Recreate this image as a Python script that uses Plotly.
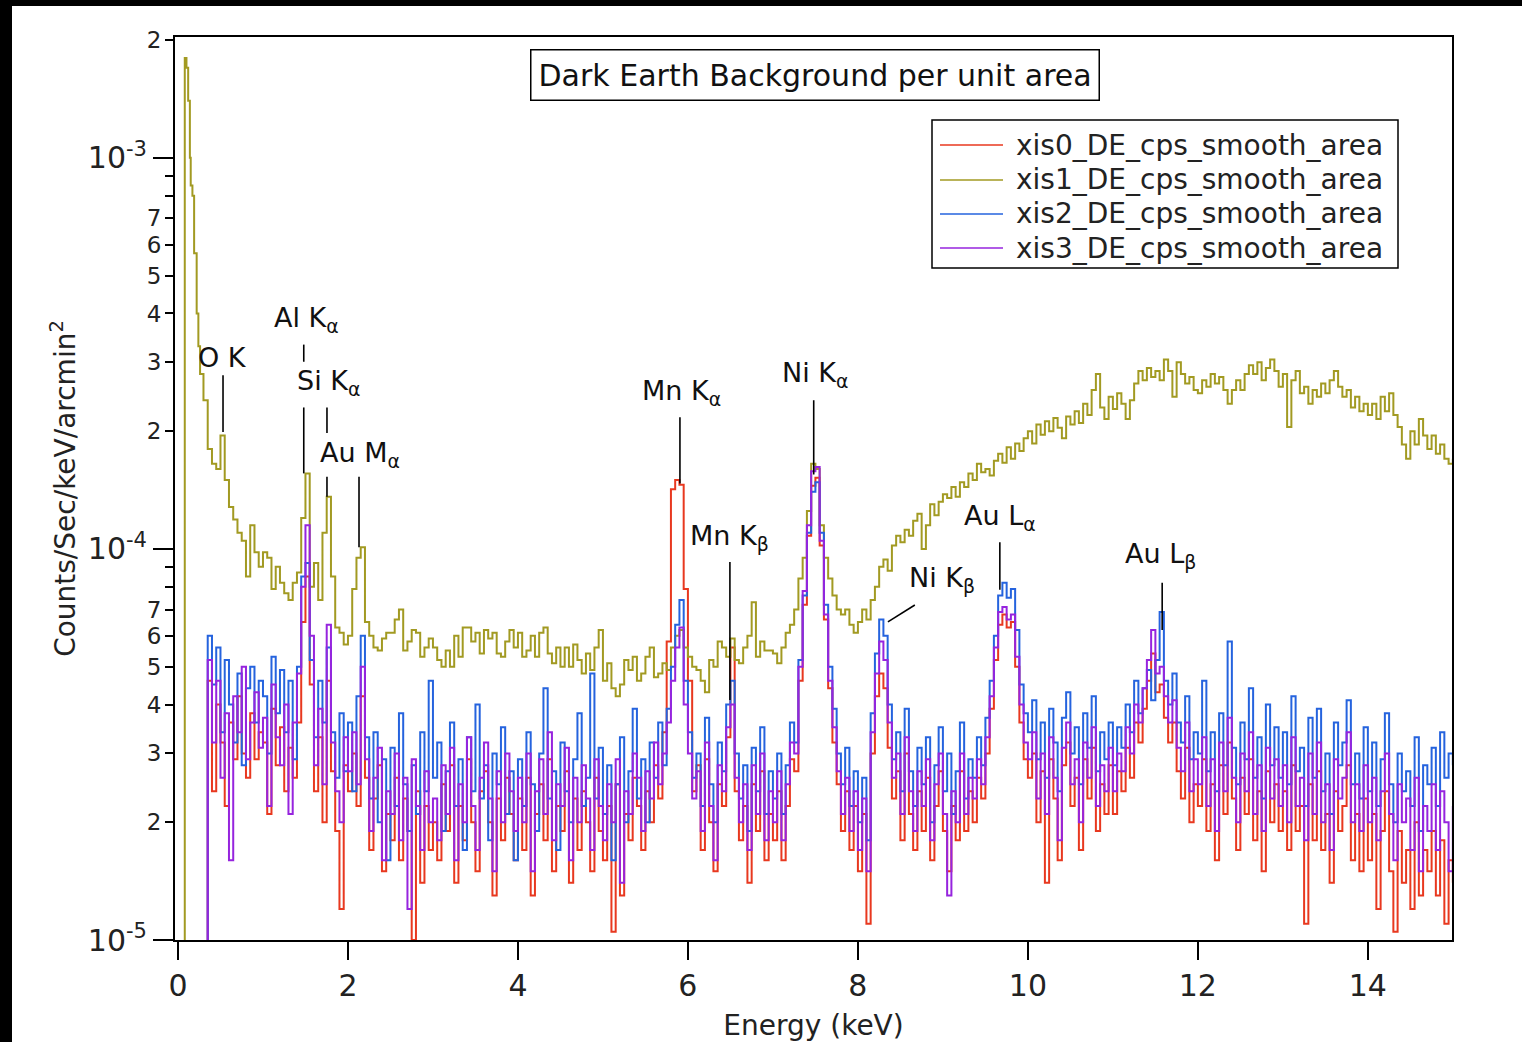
import numpy as np
import plotly.graph_objects as go

# ---------------- data (values in units of 1e-5 counts/s/keV/arcmin^2) ----------------
UNIT = 1e-5
STEP = 0.05  # keV channel spacing of the tabulated spectra

# xis1 (olive): low-energy spike channels, then regular channels
XIS1_PRE_E = [0.07, 0.08, 0.10, 0.12, 0.14, 0.15, 0.17, 0.19, 0.22, 0.24, 0.26]
XIS1_PRE_V = [0.3, 180, 170, 140, 100, 85, 80, 57, 40, 33, 28]
XIS1_ROW_STARTS = [0.30, 1, 2, 3, 4, 5, 6, 7, 8, 9, 10, 11, 12, 13, 14, 15]
XIS1_ROWS = [
    [24, 18, 16.5, 16, 19.5, 15, 12.8, 11.9, 11, 10.5, 8.5, 11.5, 9.8, 9.0],
    [9.8, 9.5, 7.9, 9.0, 8.2, 7.7, 7.4, 8.2, 8.7, 12, 15.6, 8.0, 9.2, 7.4, 11, 13.6, 8.5, 6.3, 6.1, 5.7],
    [6.0, 7.9, 9.5, 10.1, 6.5, 6.0, 5.6, 5.5, 5.9, 6.1, 6.1, 6.6, 7.0, 5.5, 5.8, 6.2, 6.1, 5.3, 5.6, 5.9],
    [5.6, 5.2, 5.0, 5.5, 5.0, 6.0, 5.3, 6.3, 6.3, 5.8, 6.1, 5.4, 6.2, 5.9, 6.1, 5.4, 5.3, 5.8, 6.2, 5.6],
    [6.1, 5.3, 5.5, 6.0, 5.3, 6.1, 6.3, 5.4, 5.1, 5.6, 5.0, 5.6, 5.0, 5.7, 5.2, 4.8, 5.4, 4.9, 5.6, 6.2],
    [4.6, 5.1, 4.4, 4.2, 4.5, 5.2, 4.9, 5.3, 4.6, 4.8, 5.3, 5.6, 4.7, 4.8, 5.1, 4.9, 5.6, 6.0, 6.2, 5.6],
    [5.3, 5.0, 4.9, 4.6, 4.3, 5.2, 5.0, 5.8, 5.6, 5.3, 5.9, 5.2, 5.1, 5.6, 6.0, 7.3, 5.3, 5.8, 5.5, 5.5],
    [5.4, 5.1, 5.6, 6.1, 6.4, 7.0, 8.4, 9.5, 12.5, 16.5, 16.0, 11.5, 9.5, 8.4, 7.6, 7.0, 6.8, 7.0, 6.4, 6.1],
    [6.5, 7.0, 6.6, 7.4, 8.0, 9.0, 9.4, 8.8, 10.2, 10.8, 10.4, 11.2, 10.8, 11.8, 12.3, 10.0, 11.5, 13.0, 12.2, 13.2],
    [13.8, 13.5, 14.4, 13.6, 14.8, 14.4, 15.6, 15.0, 16.5, 15.7, 16.0, 15.4, 16.8, 17.5, 16.6, 18.2, 17.0, 18.6, 17.8, 19.2],
    [20.0, 18.6, 20.8, 19.6, 21.2, 20.0, 21.6, 20.4, 19.2, 21.8, 20.8, 22.5, 21.0, 23.5, 22.0, 25.5, 28.0, 23.0, 21.5, 24.5],
    [22.8, 25.0, 23.5, 21.5, 24.0, 26.5, 28.5, 27.0, 29.0, 27.5, 28.5, 27.0, 30.5, 28.5, 24.5, 30.0, 28.0, 26.5, 27.5, 25.5],
    [25.0, 27.0, 26.0, 28.0, 26.5, 27.5, 25.5, 23.5, 25.5, 27.0, 25.5, 28.0, 29.5, 28.0, 30.0, 27.0, 29.0, 30.5, 28.5, 26.0],
    [28.0, 20.5, 27.0, 28.5, 25.0, 26.0, 23.5, 25.5, 24.5, 26.5, 25.0, 27.0, 28.5, 26.0, 24.5, 25.5, 23.0, 24.5, 22.5, 23.5],
    [22.0, 23.5, 21.5, 24.5, 22.5, 25.0, 22.0, 20.5, 18.5, 17.0, 20.0, 18.5, 21.5, 19.5, 18.0, 19.5, 17.5, 18.5, 17.0, 16.5],
    [17.0],
]

# xis0 / xis2 / xis3: start channel below the axis, then regular channels
LOW_PRE_E = [0.33]
LOW_PRE_V = [0.3]
LOW_ROW_STARTS = [0.35, 1, 2, 3, 4, 5, 6, 7, 8, 9, 10, 11, 12, 13, 14, 15]

XIS0_ROWS = [
    [4.6, 2.4, 4.0, 3.2, 2.2, 3.6, 2.9, 4.2, 3.0, 2.6, 3.8, 2.9, 3.4],
    [3.2, 2.1, 3.9, 2.8, 3.5, 2.4, 3.1, 2.6, 3.6, 6.5, 8.5, 4.5, 2.4, 3.3, 2.0, 4.6, 2.7, 1.9, 1.2, 2.8],
    [2.4, 3.0, 2.2, 4.2, 2.6, 1.7, 2.3, 2.8, 1.5, 2.1, 1.8, 2.6, 1.6, 2.3, 1.9, 1.0, 2.4, 1.4, 2.2, 1.7],
    [2.0, 1.6, 2.5, 1.9, 2.8, 1.4, 2.2, 1.8, 2.9, 2.0, 1.5, 2.4, 2.7, 2.0, 1.3, 2.3, 1.8, 2.6, 2.1, 1.6],
    [2.3, 1.7, 2.6, 1.3, 2.1, 2.5, 1.8, 2.9, 1.5, 2.2, 1.9, 2.7, 1.4, 2.3, 1.7, 2.4, 2.0, 1.5, 2.6, 1.9],
    [1.6, 2.2, 1.05, 2.5, 1.3, 2.1, 1.8, 2.6, 2.2, 1.7, 2.4, 2.0, 2.8, 2.3, 3.4, 5.8, 14.2, 15.0, 14.6, 7.9],
    [4.6, 2.4, 2.8, 1.7, 2.9, 2.0, 1.5, 2.5, 2.2, 3.3, 5.6, 2.4, 1.8, 2.2, 1.4, 2.5, 1.9, 2.7, 1.6, 2.1],
    [1.8, 2.4, 1.6, 2.2, 2.9, 2.7, 4.6, 7.2, 10.8, 14.5, 15.2, 10.2, 6.6, 4.4, 3.2, 2.5, 1.9, 2.4, 1.7, 2.2],
    [1.5, 2.1, 1.1, 3.0, 4.2, 4.8, 4.4, 3.1, 2.3, 2.7, 1.8, 3.0, 2.1, 1.7, 2.4, 1.9, 2.6, 1.6, 2.2, 2.7],
    [1.9, 1.5, 2.2, 1.8, 2.7, 1.9, 2.4, 2.0, 2.6, 2.3, 3.0, 3.9, 5.2, 6.4, 6.8, 6.3, 6.5, 5.0, 3.6, 2.9],
    [2.6, 3.0, 2.0, 2.7, 1.4, 2.9, 2.3, 1.6, 2.8, 3.2, 2.2, 2.6, 1.7, 2.9, 2.3, 3.1, 1.9, 2.5, 2.1, 2.8],
    [2.1, 2.7, 2.4, 3.1, 2.6, 3.6, 3.2, 3.9, 4.6, 5.4, 4.3, 4.5, 3.7, 3.2, 3.6, 2.7, 2.3, 3.1, 2.0, 2.5],
    [2.2, 2.9, 1.9, 2.5, 1.6, 2.8, 2.1, 3.2, 2.3, 1.7, 2.6, 2.1, 2.9, 1.8, 2.4, 1.5, 2.7, 2.0, 2.5, 1.9],
    [2.4, 1.7, 2.8, 1.9, 2.2, 1.1, 2.5, 1.8, 2.7, 1.7, 2.1, 1.4, 2.4, 1.9, 2.2, 2.8, 1.6, 2.1, 1.5, 2.3],
    [1.6, 2.1, 1.2, 1.9, 2.4, 1.5, 1.05, 1.9, 1.4, 1.7, 1.2, 2.0, 1.3, 1.7, 1.5, 1.9, 1.3, 1.8, 1.1, 1.6],
    [1.4],
]

XIS2_ROWS = [
    [6.0, 4.5, 5.6, 3.4, 5.2, 4.0, 3.2, 4.8, 2.8, 4.4, 5.0, 3.6, 4.6],
    [4.2, 3.0, 5.3, 3.8, 4.9, 3.4, 4.6, 2.9, 5.0, 8.5, 9.2, 5.2, 3.3, 4.6, 3.6, 5.6, 3.4, 2.6, 3.8, 2.7],
    [3.6, 2.4, 4.2, 6.0, 3.3, 2.3, 3.4, 2.0, 2.9, 1.6, 3.1, 2.2, 3.8, 2.5, 1.9, 2.8, 2.1, 3.4, 2.4, 4.6],
    [2.6, 3.2, 1.9, 2.7, 3.6, 2.2, 2.9, 1.7, 3.3, 2.4, 4.0, 2.3, 2.8, 1.8, 3.0, 2.5, 3.5, 2.1, 2.7, 1.6],
    [2.9, 2.2, 3.4, 2.5, 1.9, 3.0, 4.4, 2.3, 2.7, 1.7, 3.2, 2.4, 2.0, 2.9, 3.8, 2.2, 2.6, 4.8, 2.3, 3.1],
    [2.1, 2.8, 1.6, 2.5, 3.3, 2.0, 2.7, 3.9, 2.3, 2.9, 2.0, 3.2, 2.6, 3.6, 2.8, 3.9, 5.0, 6.4, 7.4, 4.6],
    [3.4, 2.6, 3.0, 2.2, 3.7, 2.5, 2.0, 3.2, 2.7, 4.0, 4.6, 3.0, 2.3, 2.8, 1.9, 3.1, 2.4, 3.5, 2.1, 2.7],
    [2.3, 3.0, 2.1, 2.8, 3.6, 3.2, 5.2, 7.6, 11.0, 14.0, 14.8, 11.0, 7.2, 5.0, 3.9, 3.0, 2.5, 3.1, 2.2, 2.7],
    [2.0, 2.6, 1.8, 3.8, 5.4, 6.6, 6.0, 4.0, 2.9, 3.4, 2.4, 3.9, 2.7, 2.2, 3.1, 2.5, 3.3, 2.0, 2.8, 3.5],
    [2.4, 3.0, 2.1, 2.7, 3.6, 2.3, 2.9, 2.6, 3.3, 2.8, 3.7, 4.6, 6.0, 7.6, 8.2, 7.5, 7.9, 6.2, 4.5, 3.8],
    [3.4, 4.1, 2.9, 3.6, 2.6, 3.9, 3.2, 2.4, 3.7, 4.3, 3.0, 3.5, 2.5, 3.8, 3.1, 4.2, 2.7, 3.4, 2.9, 3.6],
    [2.8, 3.5, 3.1, 4.0, 3.4, 4.6, 3.8, 4.4, 4.9, 4.1, 5.2, 6.9, 4.6, 4.0, 4.8, 3.6, 3.2, 4.2, 2.9, 3.4],
    [3.0, 4.6, 2.7, 3.4, 2.4, 3.8, 2.8, 5.8, 3.1, 2.5, 3.6, 2.9, 4.4, 2.6, 3.3, 2.3, 4.0, 2.8, 3.5, 2.6],
    [3.4, 2.5, 4.2, 2.7, 3.1, 2.2, 3.7, 2.6, 3.9, 2.4, 3.0, 2.1, 3.6, 2.8, 3.2, 4.1, 2.5, 3.0, 2.3, 3.5],
    [2.4, 3.2, 2.2, 2.9, 3.8, 2.5, 2.0, 3.0, 2.4, 2.7, 2.2, 3.3, 1.9, 2.8, 2.5, 3.1, 2.2, 3.4, 2.6, 3.0],
    [2.8],
]

XIS3_ROWS = [
    [5.2, 3.2, 4.6, 2.6, 3.8, 1.6, 4.2, 3.4, 5.0, 2.9, 3.6, 4.3, 3.1],
    [3.7, 2.2, 4.5, 3.3, 2.8, 4.0, 2.1, 3.6, 4.8, 8.0, 11.5, 6.0, 2.8, 3.9, 2.5, 6.4, 3.2, 2.4, 2.0, 3.3],
    [2.7, 3.4, 2.5, 5.0, 2.9, 1.9, 2.6, 3.1, 1.6, 2.4, 2.1, 3.0, 1.8, 2.6, 1.2, 2.9, 2.2, 1.7, 2.7, 2.0],
    [2.3, 1.8, 2.8, 2.1, 3.1, 1.6, 2.5, 2.0, 3.3, 2.2, 1.7, 2.6, 3.2, 2.3, 1.5, 2.7, 2.0, 3.0, 2.4, 1.9],
    [2.6, 2.0, 3.0, 1.5, 2.4, 2.9, 2.1, 3.4, 1.8, 2.5, 2.2, 3.1, 1.6, 2.6, 2.0, 2.8, 2.3, 1.7, 2.9, 2.2],
    [1.8, 2.5, 2.0, 2.9, 1.4, 2.4, 2.1, 3.0, 2.6, 1.9, 2.7, 2.3, 3.2, 2.5, 3.0, 3.6, 4.6, 5.6, 6.3, 4.0],
    [3.0, 2.3, 2.7, 1.9, 3.2, 2.2, 1.6, 2.8, 2.4, 3.5, 4.0, 2.6, 2.0, 2.5, 1.7, 2.8, 2.1, 3.0, 1.8, 2.4],
    [2.0, 2.7, 1.8, 2.5, 3.2, 3.0, 5.0, 7.8, 11.5, 15.8, 16.2, 10.5, 6.8, 4.6, 3.5, 2.7, 2.1, 2.6, 1.9, 2.4],
    [1.7, 2.3, 1.5, 3.4, 4.8, 5.8, 5.2, 3.6, 2.6, 3.0, 2.1, 3.3, 2.4, 1.9, 2.7, 2.2, 2.9, 1.8, 2.5, 3.0],
    [2.1, 1.3, 2.4, 2.0, 3.0, 2.1, 2.6, 2.3, 2.9, 2.5, 3.3, 4.2, 5.6, 6.9, 7.1, 6.6, 6.8, 5.3, 4.0, 3.2],
    [2.9, 3.4, 2.3, 3.0, 2.1, 3.3, 2.6, 1.8, 3.1, 3.6, 2.5, 2.9, 2.0, 3.2, 2.6, 3.5, 2.2, 2.8, 2.4, 3.1],
    [2.4, 3.0, 2.7, 3.5, 3.0, 4.0, 3.6, 4.4, 5.2, 6.2, 4.8, 5.0, 4.2, 3.6, 4.1, 3.1, 2.7, 3.6, 2.4, 2.9],
    [2.5, 3.3, 2.2, 2.9, 1.9, 3.2, 2.4, 3.7, 2.6, 2.0, 3.0, 2.4, 3.4, 2.1, 2.8, 1.9, 3.1, 2.3, 2.9, 2.2],
    [2.8, 2.0, 3.3, 2.2, 2.6, 1.8, 3.0, 2.1, 3.2, 2.0, 2.5, 1.7, 2.9, 2.3, 2.6, 3.4, 2.0, 2.5, 1.9, 2.8],
    [2.0, 2.6, 1.8, 2.4, 3.0, 2.1, 1.6, 2.5, 2.0, 2.3, 1.7, 2.6, 1.5, 2.2, 1.9, 2.5, 1.7, 2.4, 2.0, 1.5],
    [2.2],
]

SERIES_NAMES = ["xis0_DE_cps_smooth_area", "xis1_DE_cps_smooth_area",
                "xis2_DE_cps_smooth_area", "xis3_DE_cps_smooth_area"]
SERIES_COLORS = ["#e8381f", "#a29a22", "#2563de", "#9624de"]

# line identifications: label, label energy, label value, leader segments (E0, v0, E1, v1)
LINE_LABELS = ["O K", "Al K<sub>α</sub>", "Si K<sub>α</sub>", "Au M<sub>α</sub>",
               "Mn K<sub>α</sub>", "Mn K<sub>β</sub>", "Ni K<sub>α</sub>", "Ni K<sub>β</sub>",
               "Au L<sub>α</sub>", "Au L<sub>β</sub>"]
LABEL_E = [0.52, 1.51, 1.77, 2.14, 5.92, 6.49, 7.50, 8.99, 9.67, 11.56]
LABEL_V = [30.8, 38.5, 26.7, 17.4, 25.1, 10.7, 27.9, 8.33, 12.0, 9.6]
LEADERS = [
    (0.53, 27.8, 0.53, 19.9),
    (1.48, 33.3, 1.48, 30.1),
    (1.48, 23.0, 1.48, 15.6),
    (1.753, 23.0, 1.753, 19.8),
    (1.753, 15.3, 1.753, 13.6),
    (2.13, 15.3, 2.13, 10.1),
    (5.906, 21.7, 5.906, 14.7),
    (6.494, 9.26, 6.494, 4.11),
    (7.48, 24.0, 7.48, 15.5),
    (8.353, 6.51, 8.67, 7.19),
    (9.67, 10.4, 9.67, 7.86),
    (11.58, 8.2, 11.58, 6.2),
]

TITLE = "Dark Earth Background per unit area"
X_TICKS = [0, 2, 4, 6, 8, 10, 12, 14]
Y_DECADES = [1e-5, 1e-4, 1e-3]
Y_DECADE_TEXT = ["10<sup>-5</sup>", "10<sup>-4</sup>", "10<sup>-3</sup>"]
Y_LABELED_MINOR = [2e-5, 3e-5, 4e-5, 5e-5, 6e-5, 7e-5, 2e-4, 3e-4, 4e-4, 5e-4, 6e-4, 7e-4, 2e-3]
Y_LABELED_MINOR_TEXT = ["2", "3", "4", "5", "6", "7", "2", "3", "4", "5", "6", "7", "2"]
Y_ALL_MINOR = [m * d for d in (1e-5, 1e-4) for m in range(2, 10)] + [2e-3]


def build(pre_e, pre_v, starts, rows):
    e = list(pre_e)
    v = [val * UNIT for val in pre_v]
    for s, row in zip(starts, rows):
        for j, val in enumerate(row):
            e.append(round(s + STEP * j, 3))
            v.append(val * UNIT)
    return e, v


series = [
    build(LOW_PRE_E, LOW_PRE_V, LOW_ROW_STARTS, XIS0_ROWS),
    build(XIS1_PRE_E, XIS1_PRE_V, XIS1_ROW_STARTS, XIS1_ROWS),
    build(LOW_PRE_E, LOW_PRE_V, LOW_ROW_STARTS, XIS2_ROWS),
    build(LOW_PRE_E, LOW_PRE_V, LOW_ROW_STARTS, XIS3_ROWS),
]

# ---------------- figure ----------------
FONT = "DejaVu Sans"
W, H = 1522, 1042
ML, MR, MT, MB = 175, 70, 37, 102
PW, PH = W - ML - MR, H - MT - MB


def px(x):  # page pixel -> paper x
    return (x - ML) / PW


def py(y):  # page pixel -> paper y
    return (H - MB - y) / PH


fig = go.Figure()
for (e, v), name, col in zip(series, SERIES_NAMES, SERIES_COLORS):
    fig.add_trace(go.Scatter(x=e, y=v, mode="lines", name=name, showlegend=False,
                             line=dict(color=col, width=2, shape="hv")))

# leader lines
lx, ly = [], []
for e0, v0, e1, v1 in LEADERS:
    lx += [e0, e1, None]
    ly += [v0 * UNIT, v1 * UNIT, None]
fig.add_trace(go.Scatter(x=lx, y=ly, mode="lines", showlegend=False,
                         line=dict(color="black", width=1.6), hoverinfo="skip"))
# dummy trace for the labelled-minor-tick axis
fig.add_trace(go.Scatter(x=[None], y=[None], yaxis="y2", showlegend=False, hoverinfo="skip"))

annotations = []
for txt, e, v in zip(LINE_LABELS, LABEL_E, LABEL_V):
    annotations.append(dict(x=e, y=float(np.log10(v * UNIT)), xref="x", yref="y",
                            text=txt, showarrow=False, xanchor="center", yanchor="middle",
                            font=dict(family=FONT, size=27, color="#111")))
annotations.append(dict(x=px(815), y=py(75), xref="paper", yref="paper",
                        text=TITLE, showarrow=False, xanchor="center", yanchor="middle",
                        bordercolor="black", borderwidth=1.5, borderpad=7, bgcolor="white",
                        font=dict(family=FONT, size=30, color="#111")))

# legend drawn as a boxed key
shapes = [
    dict(type="rect", xref="paper", yref="paper", x0=px(932), x1=px(1398),
         y0=py(268), y1=py(120), fillcolor="white", line=dict(color="black", width=1.5)),
]
LEG_ROWS = [145, 180, 214, 248]
for name, col, yy in zip(SERIES_NAMES, SERIES_COLORS, LEG_ROWS):
    shapes.append(dict(type="line", xref="paper", yref="paper", x0=px(940), x1=px(1003),
                       y0=py(yy), y1=py(yy), line=dict(color=col, width=1.6)))
    annotations.append(dict(x=px(1014), y=py(yy), xref="paper", yref="paper", text=name,
                            showarrow=False, xanchor="left", yanchor="middle",
                            font=dict(family=FONT, size=28, color="#222")))

# black border strips of the original picture
shapes += [
    dict(type="rect", xref="paper", yref="paper", x0=px(0), x1=px(12),
         y0=py(H), y1=py(0), fillcolor="black", line=dict(width=0)),
    dict(type="rect", xref="paper", yref="paper", x0=px(0), x1=px(W),
         y0=py(6), y1=py(0), fillcolor="black", line=dict(width=0)),
]

yrange = [-5, -2.691]
fig.update_layout(
    width=W, height=H,
    margin=dict(l=ML, r=MR, t=MT, b=MB, pad=0),
    paper_bgcolor="white", plot_bgcolor="white",
    font=dict(family=FONT, size=28, color="#222"),
    showlegend=False,
    xaxis=dict(range=[-0.035, 14.99], tickmode="array", tickvals=X_TICKS,
               ticks="outside", ticklen=18, tickwidth=2, tickcolor="black",
               showline=True, linewidth=2, linecolor="black", mirror=True,
               showgrid=False, zeroline=False, tickfont=dict(size=30),
               title=dict(text="Energy (keV)", font=dict(size=28), standoff=16),
               automargin=False),
    yaxis=dict(type="log", range=yrange, tickmode="array", tickvals=Y_DECADES,
               ticktext=Y_DECADE_TEXT, ticks="outside", ticklen=20, tickwidth=2,
               tickcolor="black", showline=True, linewidth=2, linecolor="black",
               mirror=True, showgrid=False, zeroline=False, tickfont=dict(size=30),
               minor=dict(tickmode="array", tickvals=Y_ALL_MINOR, ticks="outside",
                          ticklen=8, tickwidth=2, tickcolor="black", showgrid=False),
               title=dict(text="Counts/Sec/keV/arcmin<sup>2</sup>", font=dict(size=28), standoff=4),
               automargin=False),
    yaxis2=dict(type="log", range=yrange, overlaying="y", side="left", anchor="x",
                tickmode="array", tickvals=Y_LABELED_MINOR, ticktext=Y_LABELED_MINOR_TEXT,
                ticks="outside", ticklen=8, tickwidth=2, tickcolor="black",
                showline=False, showgrid=False, zeroline=False, tickfont=dict(size=23),
                automargin=False),
    annotations=annotations,
    shapes=shapes,
)

fig.write_html("out.html")
